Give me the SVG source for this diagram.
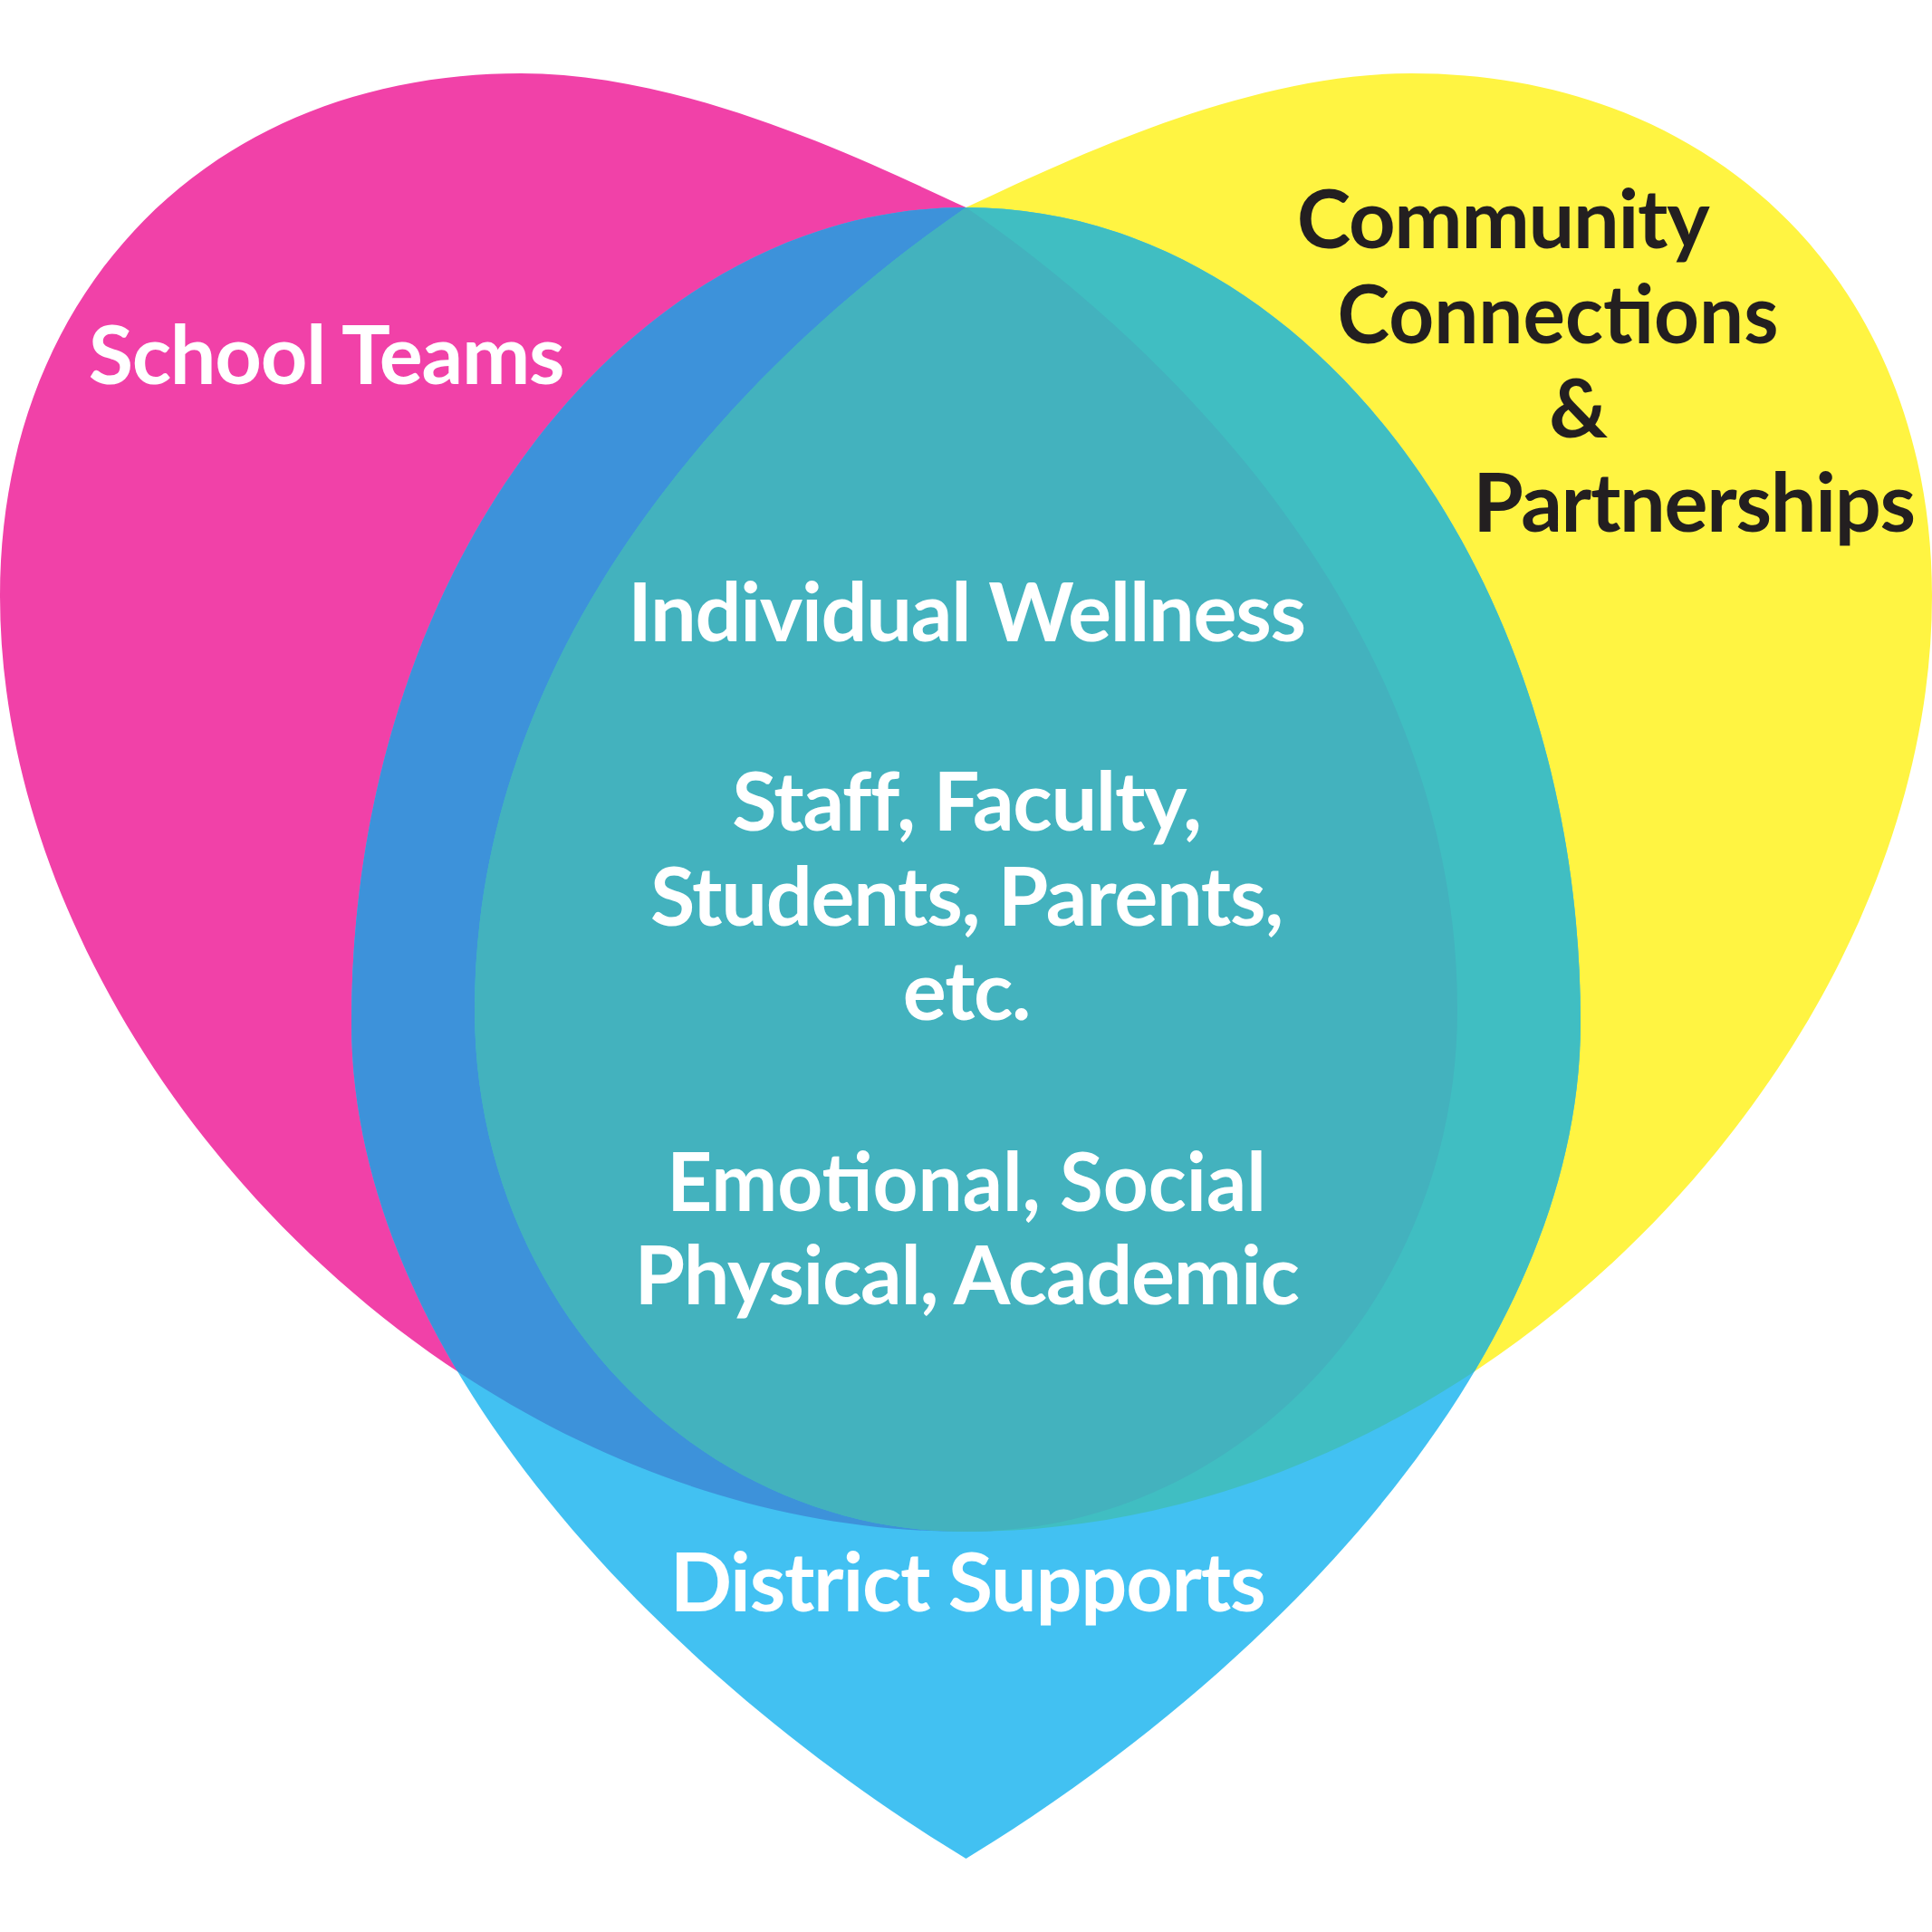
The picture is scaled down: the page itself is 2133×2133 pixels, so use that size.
<svg xmlns="http://www.w3.org/2000/svg" xmlns:xlink="http://www.w3.org/1999/xlink" width="2133" height="2133" viewBox="0 0 2133 2133">
<style>
text{font-family:Lato,"Open Sans","Liberation Sans",sans-serif;font-weight:700;font-size:90px;text-anchor:middle;letter-spacing:-1.3px}
text.lig{letter-spacing:normal}
.w{fill:#ffffff}
.k{fill:#231f20}
</style>
<defs>
<path id="lobe" d="M 1066.5,229 C 960,180 760,81 575,81 C 236,81 0,318 0,658 C 0,1158 496.5,1691 1066.5,1691 C 1366,1691 1609,1434 1609,1115 C 1609,700 1300,390 1066.5,229 Z"/>
<path id="drop" d="M 1066.5,229 C 692,229 388,632 388,1129 C 388,1500 735,1850 1066.5,2052 C 1398,1850 1745,1500 1745,1129 C 1745,632 1441,229 1066.5,229 Z"/>
<clipPath id="clipDrop"><use href="#drop" xlink:href="#drop"/></clipPath>
<clipPath id="clipRight"><use href="#lobe" xlink:href="#lobe" transform="matrix(-1 0 0 1 2133 0)"/></clipPath>
</defs>
<rect width="2133" height="2133" fill="#ffffff"/>
<g id="school-teams-lobe"><use href="#lobe" xlink:href="#lobe" fill="#f141a8"/></g>
<g id="community-lobe"><use href="#lobe" xlink:href="#lobe" transform="matrix(-1 0 0 1 2133 0)" fill="#fff442"/></g>
<g id="district-lobe"><use href="#drop" xlink:href="#drop" fill="#42c1f2"/></g>
<g id="overlaps" clip-path="url(#clipDrop)">
<use href="#lobe" xlink:href="#lobe" fill="#3d92da"/>
<use href="#lobe" xlink:href="#lobe" transform="matrix(-1 0 0 1 2133 0)" fill="#40bec2"/>
<g id="center-overlap" clip-path="url(#clipRight)"><use href="#lobe" xlink:href="#lobe" fill="#43b2be"/></g>
</g>
<g id="label-school"><text class="w" x="360" y="424">School Teams</text></g>
<g id="label-community">
<text class="k" x="1659" y="274">Community</text>
<text class="k lig" transform="translate(1720 0) scale(0.968 1)" x="0" y="379">Connections</text>
<text class="k" x="1742" y="483">&amp;</text>
<text class="k" x="1870" y="587">Partnerships</text>
</g>
<g id="label-center">
<text class="w" x="1067" y="708">Individual Wellness</text>
<text class="w" x="1067" y="917">Staff, Faculty,</text>
<text class="w" x="1067" y="1022">Students, Parents,</text>
<text class="w" x="1067" y="1126">etc.</text>
<text class="w lig" transform="translate(1067 0) scale(0.968 1)" x="0" y="1337">Emotional, Social</text>
<text class="w" x="1067" y="1440">Physical, Academic</text>
</g>
<g id="label-district"><text class="w" x="1068" y="1779">District Supports</text></g>
</svg>
